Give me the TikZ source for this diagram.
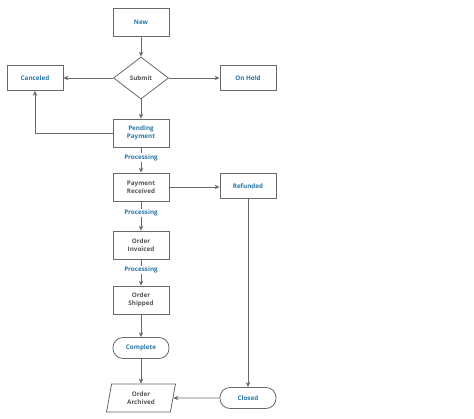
\documentclass[tikz,border=0pt]{standalone}
\usepackage{fontspec}
\setmainfont{Open Sans}
\usetikzlibrary{arrows.meta,shapes,positioning}
\definecolor{stateblue}{RGB}{40,118,168}
\definecolor{linegray}{RGB}{105,105,105}
\definecolor{textgray}{RGB}{85,85,85}

\begin{document}
\begin{tikzpicture}[x=1pt,y=-1pt,>={Stealth[length=5pt,width=4.5pt]},
		font=\fontsize{6.3}{7.8}\selectfont\bfseries,
		every node/.style={align=center},
		box/.style={draw=linegray,line width=0.8pt,fill=white,minimum width=56pt,minimum height=28pt,inner sep=1pt},
		slim/.style={box,minimum height=25pt},
		decision/.style={draw=linegray,line width=0.8pt,diamond,minimum width=55pt,minimum height=42pt,inner sep=0pt,aspect=1.3},
		term/.style={draw=linegray,line width=0.8pt,rounded corners=10pt,minimum width=56pt,minimum height=21pt},
		io/.style={draw=linegray,line width=0.8pt,trapezium,trapezium left angle=68,trapezium right angle=112,trapezium stretches body,minimum width=69pt,minimum height=28pt,inner sep=0pt},
		lbl/.style={fill=white,text=stateblue,inner sep=1pt},
		flow/.style={->,draw=linegray,line width=0.8pt}]
		\useasboundingbox (0,0) rectangle (474,419);

		\node[box,text=stateblue] (new) at (141,22) {New};
		\node[decision,text=textgray] (submit) at (141,78) {Submit};
		\node[slim,text=stateblue] (canceled) at (35,78) {Canceled};
		\node[slim,text=stateblue] (onhold) at (248,78) {On Hold};
		\node[box,text=stateblue] (pending) at (141,133) {Pending\\Payment};
		\node[box,text=textgray] (received) at (141,187) {Payment\\Received};
		\node[slim,text=stateblue] (refunded) at (248,186) {Refunded};
		\node[box,text=textgray] (invoiced) at (141,245) {Order\\Invoiced};
		\node[box,text=textgray] (shipped) at (141,300) {Order\\Shipped};
		\node[term,text=stateblue] (complete) at (141,348) {Complete};
		\node[io,text=textgray] (archived) at (141,398) {Order\\Archived};
		\node[term,text=stateblue] (closed) at (248,398) {Closed};

		\draw[flow] (new) -- (submit);
		\draw[flow] (submit) -- (canceled);
		\draw[flow] (submit) -- (onhold);
		\draw[flow] (submit) -- (pending);
		\draw[flow] (pending.west) -| (canceled.south);

		\draw[flow] (pending) -- (received) node[lbl,pos=0.4] {Processing};
		\draw[flow] (received) -- (refunded.west |- received);
		\draw[flow] (received) -- (invoiced) node[lbl,pos=0.4] {Processing};
		\draw[flow] (invoiced) -- (shipped) node[lbl,pos=0.4] {Processing};
		\draw[flow] (shipped) -- (complete);
		\draw[flow] (complete) -- (archived);

		\draw[flow] (refunded) -- (closed);
		\draw[flow] (closed) -- (archived);
\end{tikzpicture}
\end{document}
